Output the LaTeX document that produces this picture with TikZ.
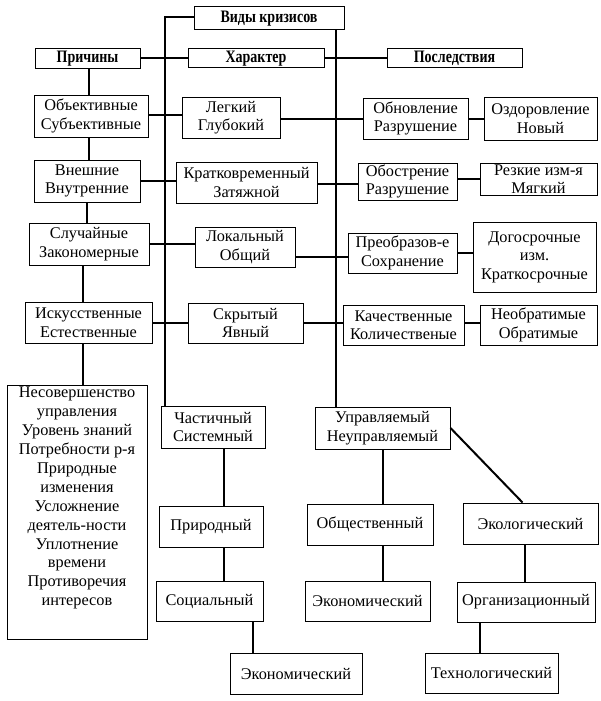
\documentclass[tikz,border=0pt]{standalone}
\usepackage{fontspec}
\setmainfont{Liberation Serif}
\newfontfamily\headfont[FakeStretch=0.8]{Liberation Serif}
\begin{document}
\begin{tikzpicture}[x=1pt,y=-1pt,
  box/.style={draw, line width=1pt, inner sep=0pt, align=center,
    font=\fontsize{16.3}{18.5}\selectfont},
  head/.style={box, font=\headfont\fontsize{17.5}{18}\selectfont\bfseries},
  conn/.style={line width=2pt}]
\useasboundingbox (0,0) rectangle (600,701);
% headers
\node[head, minimum width=150, minimum height=23] (vidy) at (269,18.5) {Виды кризисов};
\node[head, minimum width=105, minimum height=20] (prich) at (87.5,58.5) {Причины};
\node[head, minimum width=136, minimum height=19] (har) at (256,58.5) {Характер};
\node[head, minimum width=135, minimum height=19] (posl) at (454.5,58.5) {Последствия};
% left column
\node[box, minimum width=114, minimum height=42] (obj) at (91,116) {Объективные\\Субъективные};
\node[box, minimum width=106, minimum height=42] (vnesh) at (87,181) {Внешние\\Внутренние};
\node[box, minimum width=120, minimum height=42] (sluch) at (89,244) {Случайные\\Закономерные};
\node[box, minimum width=127, minimum height=41] (isk) at (88.5,322.5) {Искусственные\\Естественные};
\node[box, minimum width=140, minimum height=254, anchor=north] (big) at (77,385) {};
\node[align=center, inner sep=0pt, anchor=north, font=\fontsize{16.3}{18.9}\selectfont] (bigtext) at (77,387)
  {Несовершенство\\управления\\Уровень знаний\\Потребности р-я\\Природные\\изменения\\Усложнение\\деятель-ности\\Уплотнение\\времени\\Противоречия\\интересов};
% middle column
\node[box, minimum width=98, minimum height=41] (legk) at (231,117.5) {Легкий\\Глубокий};
\node[box, minimum width=141, minimum height=41] (krat) at (246.5,182.5) {Кратковременный\\Затяжной};
\node[box, minimum width=100, minimum height=40] (lok) at (245,247) {Локальный\\Общий};
\node[box, minimum width=115, minimum height=40] (skr) at (245.5,323) {Скрытый\\Явный};
% right-middle column
\node[box, minimum width=105, minimum height=41] (obn) at (415.5,118.5) {Обновление\\Разрушение};
\node[box, minimum width=99, minimum height=37] (obos) at (407.5,181.5) {Обострение\\Разрушение};
\node[box, minimum width=109, minimum height=40] (preo) at (402.5,253) {Преобразов-е\\Сохранение};
\node[box, minimum width=121, minimum height=40] (kach) at (403.5,325) {Качественные\\Количественые};
% right column
\node[box, minimum width=113, minimum height=43] (ozd) at (540.5,118.5) {Оздоровление\\Новый};
\node[box, minimum width=117, minimum height=32] (rez) at (538.5,179) {Резкие изм-я\\Мягкий};
\node[box, minimum width=123, minimum height=70] (dog) at (534.5,257) {Догосрочные\\изм.\\Краткосрочные};
\node[box, minimum width=117, minimum height=40] (neob) at (538.5,325) {Необратимые\\Обратимые};
% lower left tree
\node[box, minimum width=104, minimum height=42] (chast) at (213,427) {Частичный\\Системный};
\node[box, minimum width=104, minimum height=41] (prir) at (211,526.5) {Природный};
\node[box, minimum width=107, minimum height=40] (soc) at (209.5,601) {Социальный};
\node[box, minimum width=132, minimum height=41] (ekonL) at (296,673.5) {Экономический};
% lower right tree
\node[box, minimum width=135, minimum height=42] (upr) at (382.5,428) {Управляемый\\Неуправляемый};
\node[box, minimum width=126, minimum height=41] (obsh) at (370,524.5) {Общественный};
\node[box, minimum width=125, minimum height=40] (ekonR) at (367.5,601) {Экономический};
\node[box, minimum width=135, minimum height=41] (ekol) at (530.5,523.5) {Экологический};
\node[box, minimum width=138, minimum height=40] (org) at (526,602) {Организационный};
\node[box, minimum width=133, minimum height=40] (tech) at (491.5,673) {Технологический};
% trunks
\draw[conn] ([yshift=1.5pt]vidy.west) -| ([xshift=4pt]chast.north west);
\draw[conn] ([xshift=-9pt]vidy.south east) -- ([xshift=-9pt]vidy.south east |- upr.north);
% header row
\draw[conn] (prich.east) -- (har.west);
\draw[conn] (har.east) -- (posl.west);
% left chain
\draw[conn] ([xshift=1.5pt]prich.south) -- ([xshift=1.5pt]prich.south |- obj.north);
\draw[conn] ([xshift=-2pt]obj.south) -- ([xshift=-2pt]obj.south |- vnesh.north);
\draw[conn] (vnesh.south) -- (vnesh.south |- sluch.north);
\draw[conn] ([xshift=-6pt]sluch.south) -- ([xshift=-6pt]sluch.south |- isk.north);
\draw[conn] ([xshift=-5.5pt]isk.south) -- ([xshift=-5.5pt]isk.south |- big.north);
% rows
\draw[conn] ([yshift=1pt]obj.east) -- ([yshift=1pt]obj.east -| legk.west);
\draw[conn] ([yshift=-1.5pt]legk.east) -- ([yshift=-1.5pt]legk.east -| obn.west);
\draw[conn] (obn.east) -- (ozd.west);
\draw[conn] (vnesh.east) -- (vnesh.east -| krat.west);
\draw[conn] ([yshift=-1.5pt]krat.east) -- ([yshift=-1.5pt]krat.east -| obos.west);
\draw[conn] (rez.west -| obos.east) -- (rez.west);
\draw[conn] (sluch.east) -- (sluch.east -| lok.west);
\draw[conn] ([yshift=-10pt]lok.east) -- ([yshift=-10pt]lok.east -| preo.west);
\draw[conn] (preo.east) -- (preo.east -| dog.west);
\draw[conn] (isk.east) -- (isk.east -| skr.west);
\draw[conn] (skr.east) -- (skr.east -| kach.west);
\draw[conn] ([yshift=2pt]kach.east) -- ([yshift=2pt]kach.east -| neob.west);
% lower left tree
\draw[conn] ([xshift=11pt]chast.south) -- ([xshift=11pt]chast.south |- prir.north);
\draw[conn] ([xshift=13pt]prir.south) -- ([xshift=13pt]prir.south |- soc.north);
\draw[conn] ([xshift=43.5pt]soc.south) -- ([xshift=43.5pt]soc.south |- ekonL.north);
% lower right tree
\draw[conn] (upr.south) -- (upr.south |- obsh.north);
\draw[conn] ([xshift=13pt]obsh.south) -- ([xshift=13pt]obsh.south |- ekonR.north);
\draw[conn] (upr.east) -- ([xshift=-8pt]ekol.north);
\draw[conn] ([xshift=-5.5pt]ekol.south) -- ([xshift=-5.5pt]ekol.south |- org.north);
\draw[conn] ([xshift=-46pt]org.south) -- ([xshift=-46pt]org.south |- tech.north);
\end{tikzpicture}
\end{document}
